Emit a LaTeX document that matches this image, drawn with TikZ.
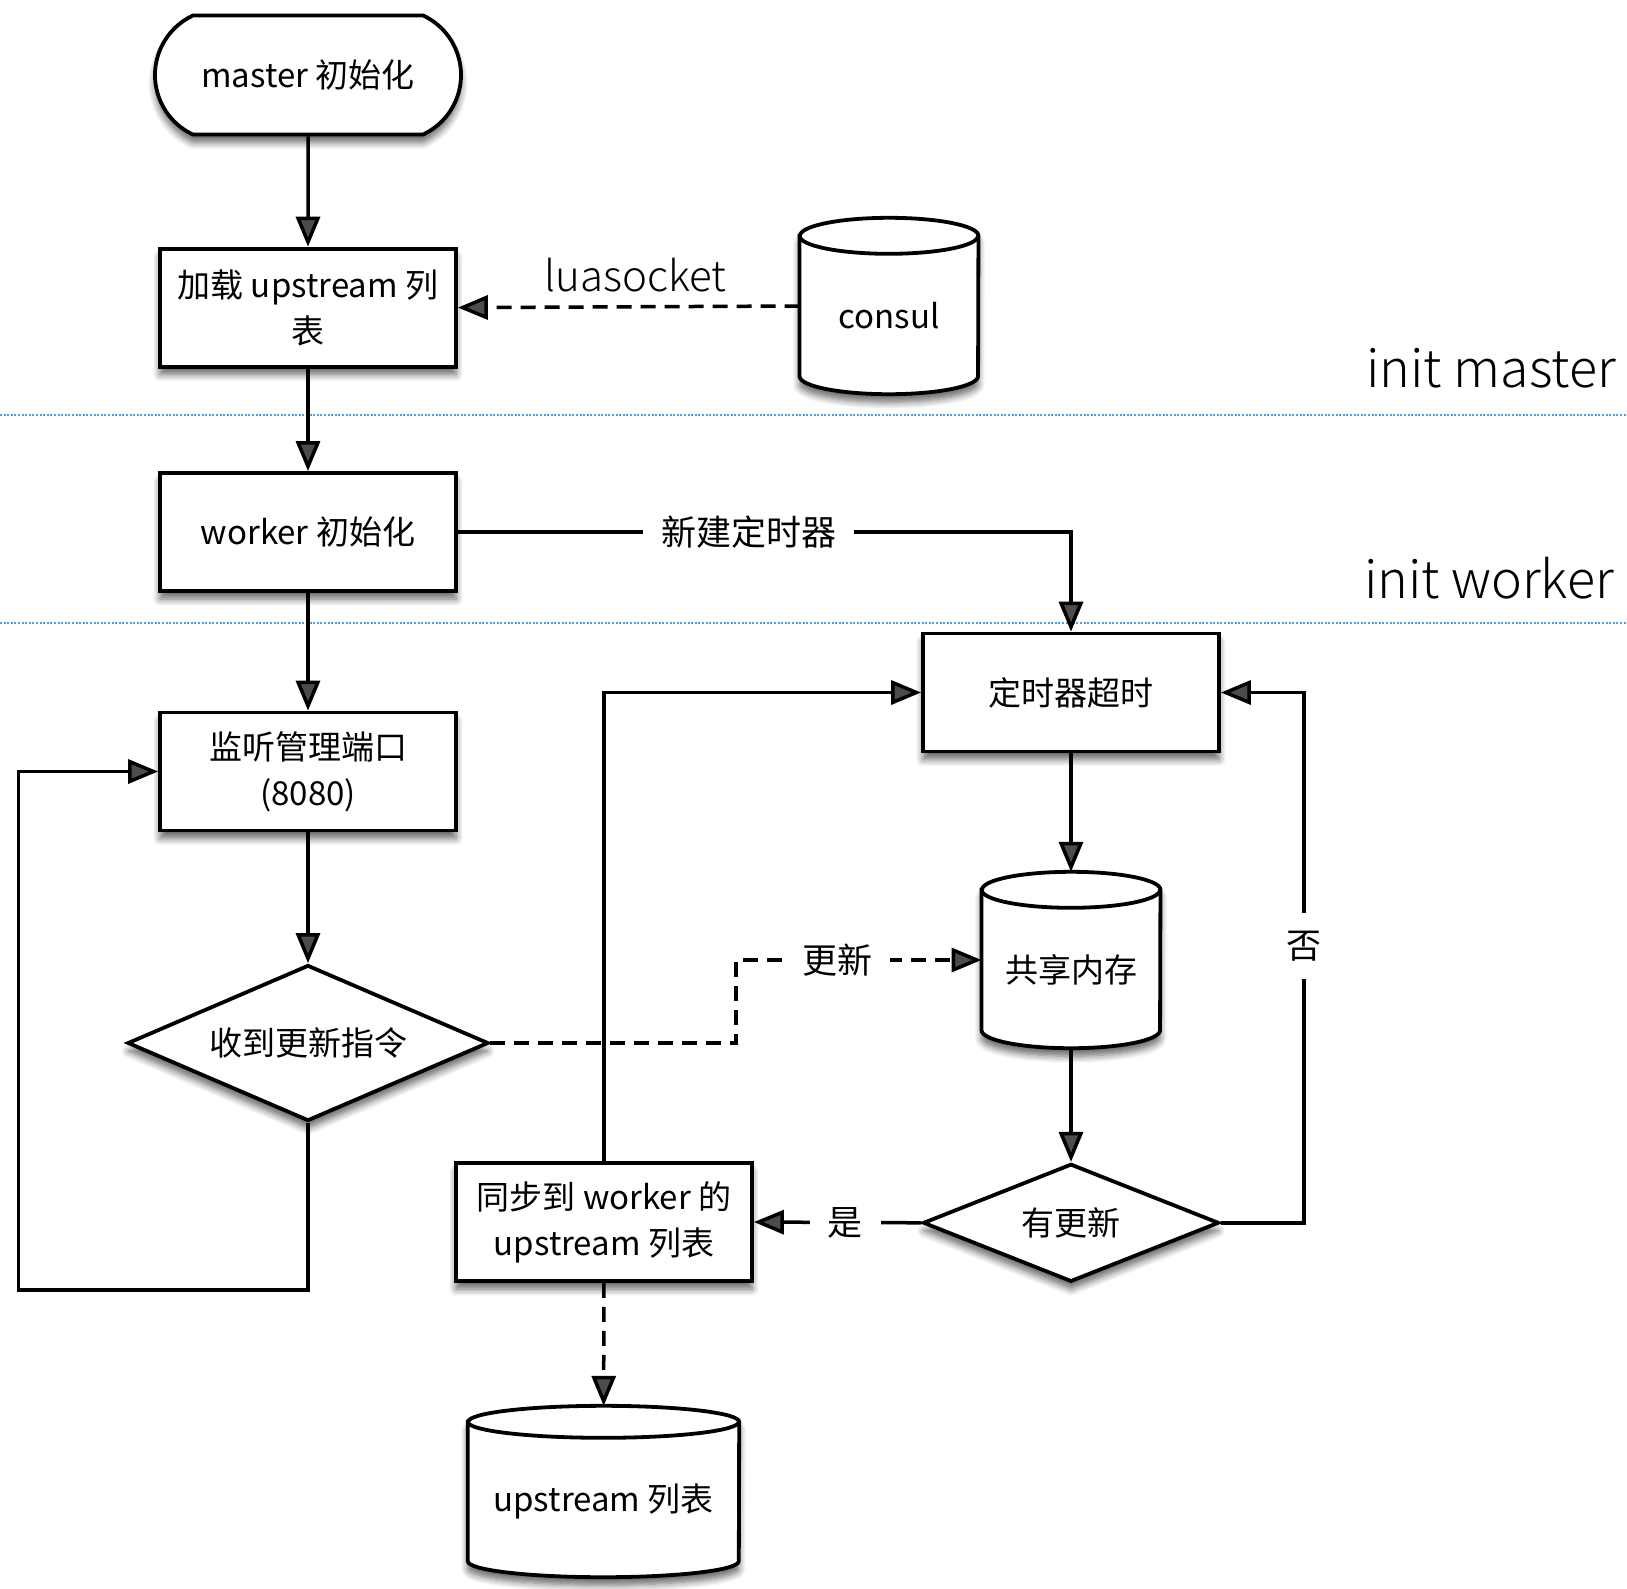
\documentclass[tikz,border=0pt]{standalone}
\usepackage{fontspec}
\setmainfont{Noto Sans CJK SC}
\newfontfamily\thinfont{Noto Sans CJK SC Light}
\usetikzlibrary{arrows.meta,shapes.geometric,shapes.misc,shadows.blur}

\tikzset{
  txt/.style={font=\fontsize{33}{46}\selectfont},
  softshadow/.style={blur shadow={shadow xshift=0pt, shadow yshift=-8pt,
      shadow blur radius=7pt, shadow blur steps=7, shadow opacity=60}},
  procbox/.style={txt, draw, line width=3.8pt, fill=white, rectangle,
      minimum width=296, minimum height=118, align=center, inner sep=0pt, softshadow},
  termbox/.style={txt, draw, line width=3.8pt, fill=white, rounded rectangle,
      rounded rectangle arc length=130, minimum width=306, minimum height=119,
      inner sep=0pt, softshadow},
  decision/.style={txt, draw, line width=3.8pt, fill=white, diamond, aspect=2.3,
      inner sep=0pt, softshadow},
  cylbox/.style={rectangle, inner sep=0pt},
  conn/.style={line width=3.5pt, -{Triangle[length=30pt,width=24pt]}},
  dconn/.style={conn, dash pattern=on 15pt off 9pt},
  lbl/.style={font=\fontsize{35}{40}\selectfont, fill=white, inner xsep=18pt, inner ysep=4pt},
  sep/.style={line width=2.2pt, draw={rgb,255:red,80;green,155;blue,235},
      dash pattern=on 2pt off 1.6pt},
  phase/.style={font=\thinfont\fontsize{52}{56}\selectfont, anchor=east, inner sep=0pt},
}

% cylinder outline drawn around a named rectangular node
% #1 node name, #2 horizontal radius, #3 vertical radius of the end ellipses
\newcommand\drumshape[3]{%
  \path[softshadow, draw, line width=3.8pt, fill=white]
    ([yshift=-#3]#1.north west) -- ([yshift=#3]#1.south west)
    arc[start angle=180, end angle=360, x radius=#2, y radius=#3]
    -- ([yshift=-#3]#1.north east)
    arc[start angle=0, end angle=180, x radius=#2, y radius=#3] -- cycle;
  \draw[line width=3.8pt] ([yshift=-#3]#1.north west)
    arc[start angle=180, end angle=360, x radius=#2, y radius=#3];
}

\begin{document}
\begin{tikzpicture}[x=1pt, y=-1pt]
\useasboundingbox (0,0) rectangle (1627,1588);

% phase separators
\draw[sep] (0,415) -- (1627,415);
\draw[sep] (0,622.6) -- (1627,622.6);
\node[phase] (pmaster) at (1616,368) {init master};
\node[phase] (pworker) at (1614,578) {init worker};

% left column
\node[termbox] (master) at (308,75) {master 初始化};
\node[procbox] (load) at (308,307.6) {加载 upstream 列\\表};
\node[procbox] (worker) at (308,532) {worker 初始化};
\node[procbox] (listen) at (308,771.5) {监听管理端口\\(8080)};
\node[decision, minimum width=361, minimum height=156] (recv) at (308,1043) {收到更新指令};

% consul store
\node[cylbox, minimum width=178.5, minimum height=176] (consul) at (889,306) {};
\drumshape{consul}{89.25pt}{18pt}
\node[txt] (consultxt) at ([yshift=-10pt]consul.center) {consul};

% right column
\node[procbox] (timer) at (1071,692.5) {定时器超时};
\node[cylbox, minimum width=178.5, minimum height=176] (shm) at (1071,960) {};
\drumshape{shm}{89.25pt}{18pt}
\node[txt] (shmtxt) at ([yshift=-10pt]shm.center) {共享内存};
\node[decision, minimum width=296, minimum height=118] (upd) at (1071,1222.8) {有更新};

\node[procbox] (sync) at (604,1222) {同步到 worker 的\\upstream 列表};
\node[cylbox, minimum width=271, minimum height=171] (ups) at (603.5,1491.5) {};
\drumshape{ups}{135.5pt}{16pt}
\node[txt] (upstxt) at ([yshift=-10pt]ups.center) {upstream 列表};

% connectors
\draw[conn] (master) -- (load);
\draw[conn] (load) -- (worker);
\draw[conn] (worker) -- (listen);
\draw[conn] (listen) -- (recv);

\draw[dconn] (consul.west) -- node[pos=0.48, yshift=32pt, font=\thinfont\fontsize{42}{46}\selectfont] {luasocket} (load.east);

\draw[conn] (worker.east) -| node[pos=0.237, lbl] {新建定时器} (timer.north);

\coordinate (loopcorner) at (18.7,1290);
\draw[conn] (recv.south) |- (loopcorner) |- (listen.west);

\coordinate (updbend) at (736,1043);
\draw[dconn] (recv.east) -- (updbend) |- node[pos=0.706, lbl] {更新} (shm.west);

\draw[conn] (timer) -- (shm);
\draw[conn] (shm) -- (upd);

\coordinate (nocorner) at (1304,1222.8);
\draw[conn] (upd.east) -- (nocorner) |- node[pos=0.261, lbl, inner xsep=4pt, inner ysep=18pt] {否} (timer.east);

\draw[conn] (upd.west) -- node[pos=0.454, lbl] {是} (sync.east);

\draw[conn] (sync.north) |- (timer.west);
\draw[dconn] (sync) -- (ups);
\end{tikzpicture}
\end{document}
